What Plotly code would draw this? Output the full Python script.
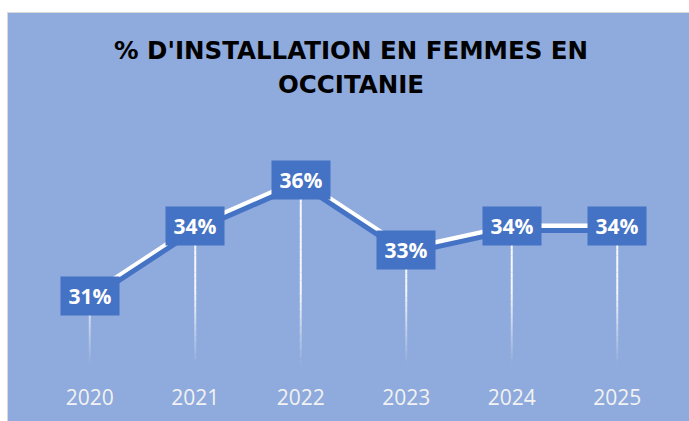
import plotly.graph_objects as go

years = ["2020", "2021", "2022", "2023", "2024", "2025"]
pct_women = [31, 34, 36, 33, 34, 34]
title_lines = ["% D'INSTALLATION EN FEMMES EN", "OCCITANIE"]

W, H = 689, 421
ML, MR, MT, MB = 37, 19, 134, 56
Y_MIN, Y_MAX = 28, 38
BG = "#8FAADC"
BOX = "#4472C4"

plot_w = W - ML - MR
plot_h = H - MT - MB
px_per_unit = plot_h / (Y_MAX - Y_MIN)
shadow_shift = 4 / px_per_unit

fig = go.Figure()

# shadow line (drawn on an overlaid axis shifted a few pixels down)
fig.add_trace(go.Scatter(
    x=years, y=pct_women, mode="lines", yaxis="y2",
    line=dict(color=BOX, width=5), hoverinfo="skip", showlegend=False))
# main white line
fig.add_trace(go.Scatter(
    x=years, y=pct_women, mode="lines",
    line=dict(color="white", width=6), showlegend=False))

shapes = []
def px_to_paper_x(px):
    return (px - ML) / plot_w
def px_to_paper_y(py):
    return (H - MB - py) / plot_h

# white outer strips (top and left) with light grey border of the chart area
shapes.append(dict(type="rect", xref="paper", yref="paper", layer="below",
                   x0=px_to_paper_x(-5), x1=px_to_paper_x(W + 5),
                   y0=px_to_paper_y(12.5), y1=px_to_paper_y(-5),
                   fillcolor="white", line=dict(width=0)))
shapes.append(dict(type="rect", xref="paper", yref="paper", layer="below",
                   x0=px_to_paper_x(-5), x1=px_to_paper_x(7.5),
                   y0=px_to_paper_y(H + 5), y1=px_to_paper_y(-5),
                   fillcolor="white", line=dict(width=0)))
shapes.append(dict(type="line", xref="paper", yref="paper", layer="below",
                   x0=px_to_paper_x(7.5), x1=px_to_paper_x(W + 5),
                   y0=px_to_paper_y(12.5), y1=px_to_paper_y(12.5),
                   line=dict(color="#D9D9D9", width=1)))
shapes.append(dict(type="line", xref="paper", yref="paper", layer="below",
                   x0=px_to_paper_x(7.5), x1=px_to_paper_x(7.5),
                   y0=px_to_paper_y(12.5), y1=px_to_paper_y(H + 5),
                   line=dict(color="#D9D9D9", width=1)))

# gradient drop lines
N = 24
for i, v in enumerate(pct_women):
    for k in range(N):
        a = Y_MIN + (v - Y_MIN) * k / N
        b = Y_MIN + (v - Y_MIN) * (k + 1) / N
        mid = (a + b) / 2
        alpha = 0.92 * min(1.0, (mid - Y_MIN) / 3.2)
        shapes.append(dict(type="line", xref="x", yref="y", layer="below",
                           x0=i, x1=i, y0=a, y1=b,
                           line=dict(color=f"rgba(255,255,255,{alpha:.3f})", width=2)))

annotations = []
for i, v in enumerate(pct_women):
    annotations.append(dict(
        x=i, y=v, xref="x", yref="y", text=f"<b>{v}%</b>", showarrow=False,
        bgcolor=BOX, width=58, height=38, borderpad=0, align="center", valign="middle",
        font=dict(family="Open Sans", size=21, color="white")))

# title (two lines), positions in pixels converted to paper coords
for line_text, ypx in zip(title_lines, [50, 84]):
    annotations.append(dict(
        x=px_to_paper_x(351), y=px_to_paper_y(ypx), xref="paper", yref="paper",
        text=f"<b>{line_text}</b>",
        showarrow=False, xanchor="center", yanchor="middle",
        font=dict(family="DejaVu Sans", size=24.5, color="black")))

fig.update_layout(
    width=W, height=H,
    margin=dict(l=ML, r=MR, t=MT, b=MB, autoexpand=False),
    paper_bgcolor=BG,
    plot_bgcolor="rgba(0,0,0,0)",
    xaxis=dict(type="category", range=[-0.5, 5.5], showgrid=False, zeroline=False,
               showline=False, ticks="", ticklabelstandoff=18, automargin=False,
               tickfont=dict(family="Open Sans", size=21, color="#F2F2F2")),
    yaxis=dict(range=[Y_MIN, Y_MAX], visible=False, showgrid=False, zeroline=False,
               automargin=False),
    yaxis2=dict(range=[Y_MIN + shadow_shift, Y_MAX + shadow_shift], overlaying="y",
                visible=False, showgrid=False, zeroline=False, automargin=False),
    shapes=shapes,
    annotations=annotations,
    showlegend=False,
)

fig.write_html("out.html", config={"displayModeBar": False},
               post_script="document.body.style.margin='0';")
